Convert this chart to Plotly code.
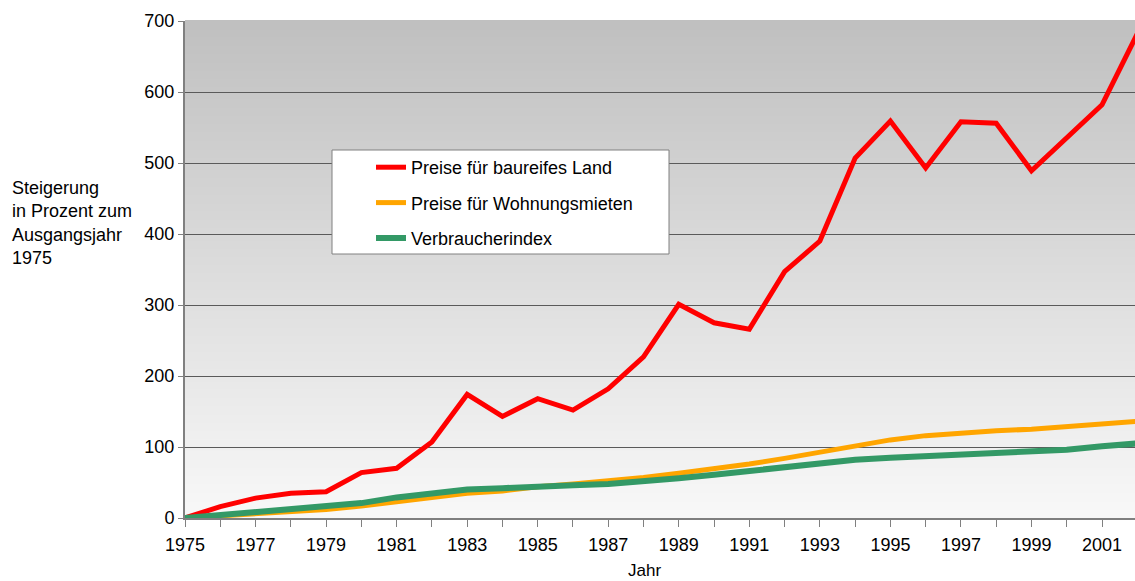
import plotly.graph_objects as go

# Jahre und Steigerung in Prozent gegenüber 1975
jahre = list(range(1975, 2003))

bauland = [0, 16, 28, 35, 37, 64, 70, 107, 174, 143, 168, 152, 182, 227, 301,
           275, 266, 347, 390, 507, 559, 493, 558, 556, 489, 535, 582, 682]

mieten = [0, 3, 7, 10, 12, 17, 23, 29, 35, 38, 44, 48, 52, 57, 63,
          69, 76, 84, 93, 101, 110, 116, 120, 123, 125, 129, 132, 136]

verbraucher = [0, 4, 8, 11, 15, 21, 29, 35, 40, 42, 45, 46, 48, 51, 56,
               61, 66, 72, 78, 82, 85, 87, 90, 92, 93, 96, 101, 105]

namen = ["Preise für baureifes Land", "Preise für Wohnungsmieten", "Verbraucherindex"]
farben = ["#FF0000", "#FFA500", "#339966"]
breiten = [5, 5, 6]

x_ticks = list(range(1975, 2003))
x_labels = [str(j) if (j - 1975) % 2 == 0 else "" for j in x_ticks]
y_ticks = [0, 100, 200, 300, 400, 500, 600, 700]

W, H = 1135, 581
ML, MR, MT, MB = 185, 0, 21, 63
PW, PH = W - ML - MR, H - MT - MB


def px_x(p):
    return (p - ML) / PW


def px_y(p):
    return (H - MB - p) / PH


FONT = "Liberation Sans, Arial, sans-serif"

fig = go.Figure()
for i, (name, werte) in enumerate(zip(namen, [bauland, mieten, verbraucher])):
    fig.add_trace(go.Scatter(
        x=jahre, y=werte, mode="lines", name=name,
        legendgroup=f"g{i}",
        line=dict(color=farben[i], width=breiten[i]),
    ))

# vertical grey gradient behind the plot area
shapes = []
N = 120
top = (192, 192, 192)
bot = (248, 248, 248)
for i in range(N):
    t = i / (N - 1)
    c = tuple(round(bot[k] + (top[k] - bot[k]) * t) for k in range(3))
    shapes.append(dict(
        type="rect", xref="x domain", yref="y domain",
        x0=0, x1=1, y0=i / N, y1=(i + 1) / N + 0.002,
        fillcolor=f"rgb{c}", line=dict(width=0), layer="below",
    ))

# legend frame
shapes.append(dict(
    type="rect", xref="paper", yref="paper",
    x0=px_x(332), x1=px_x(669), y0=px_y(254), y1=px_y(150),
    fillcolor="white", line=dict(color="#808080", width=1), layer="above",
))

fig.update_layout(
    width=W, height=H,
    margin=dict(l=ML, r=MR, t=MT, b=MB),
    paper_bgcolor="white",
    plot_bgcolor="white",
    font=dict(family=FONT, size=18, color="black"),
    shapes=shapes,
    showlegend=True,
    legend=dict(
        x=px_x(371), y=px_y(149), xanchor="left", yanchor="top",
        bgcolor="rgba(0,0,0,0)", borderwidth=0,
        tracegroupgap=9,
        font=dict(family=FONT, size=18, color="black"),
    ),
    xaxis=dict(
        range=[1975, 1975 + PW / 35.27],
        tickmode="array", tickvals=x_ticks, ticktext=x_labels,
        ticks="outside", ticklen=7, tickcolor="#808080", tickwidth=1,
        ticklabelstandoff=2,
        showgrid=False, zeroline=False,
        showline=True, linecolor="#808080", linewidth=2,
        tickfont=dict(family=FONT, size=18),
    ),
    yaxis=dict(
        range=[0, 700],
        tickmode="array", tickvals=y_ticks,
        ticks="outside", ticklen=5, tickcolor="#808080", tickwidth=1,
        showgrid=True, gridcolor="#5a5a5a", gridwidth=1,
        zeroline=False,
        showline=True, linecolor="#808080", linewidth=2,
        tickfont=dict(family=FONT, size=18),
    ),
    annotations=[
        dict(
            text="Steigerung<br>in Prozent zum<br>Ausgangsjahr<br>1975",
            xref="paper", yref="paper", x=px_x(10), y=px_y(223),
            xanchor="left", yanchor="middle", align="left", showarrow=False,
            font=dict(family=FONT, size=18),
        ),
        dict(
            text="Jahr", xref="paper", yref="paper",
            x=px_x(644), y=px_y(570), xanchor="center", yanchor="middle",
            showarrow=False, font=dict(family=FONT, size=17),
        ),
    ],
)

fig.write_html("out.html")
